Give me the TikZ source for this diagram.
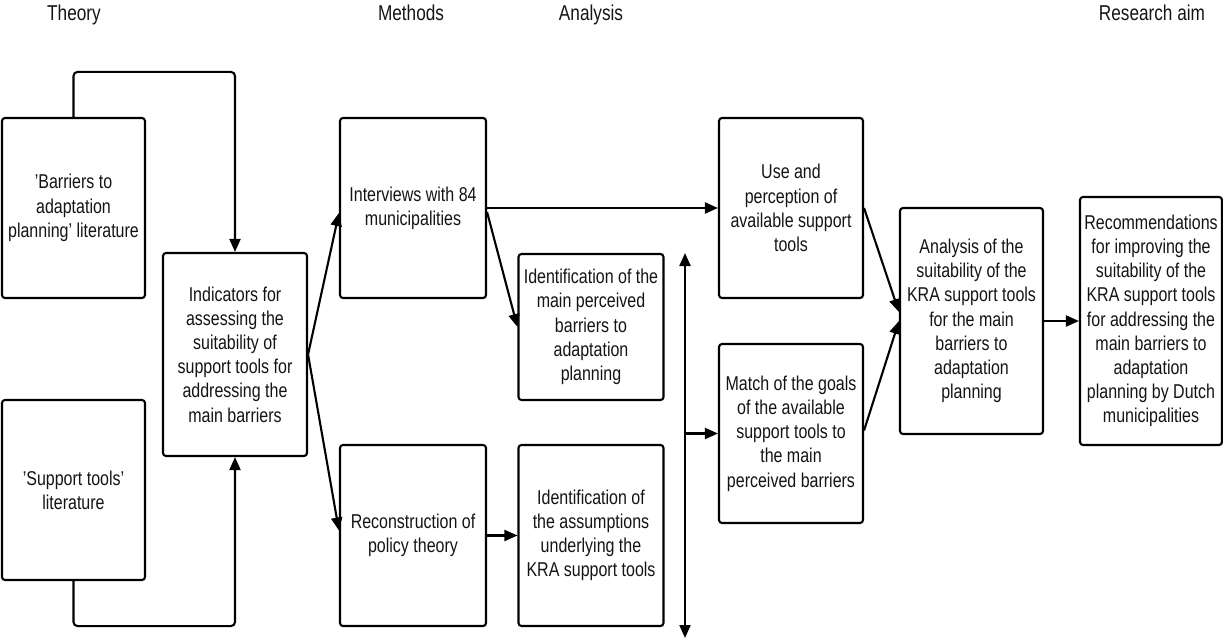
\documentclass[tikz,border=0pt]{standalone}
\usepackage{fontspec}
\setmainfont{Liberation Sans}[FakeStretch=0.8]
\usetikzlibrary{arrows.meta,calc}
\begin{document}
\begin{tikzpicture}[x=1pt,y=-1pt,
  box/.style={draw=black, line width=2.1pt, rounded corners=3pt, align=center, inner sep=0pt, text=black!92, font=\fontsize{20}{24.2}\selectfont},
  conn/.style={line width=2.1pt, draw=black, rounded corners=4pt, -{Triangle[length=13pt,width=11pt]}},
  dconn/.style={line width=2.1pt, draw=black, {Triangle[length=13pt,width=11pt]}-{Triangle[length=13pt,width=11pt]}},
  hdr/.style={font=\fontsize{21.5}{24}\selectfont, text=black!92, inner sep=0pt, anchor=base}]
\useasboundingbox (0,0) rectangle (1223,639);
% headers
\node[hdr] (hT) at (74,21) {Theory};
\node[hdr] (hM) at (411,21) {Methods};
\node[hdr] (hA) at (591,21) {Analysis};
\node[hdr] (hR) at (1152,21) {Research aim};
% boxes
\node[box, minimum width=143pt, minimum height=180pt] (b1) at (73.5,208) {'Barriers to\\adaptation\\planning' literature};
\node[box, minimum width=143pt, minimum height=180pt] (b2) at (73.5,490) {'Support tools'\\literature};
\node[box, minimum width=144pt, minimum height=203pt] (ind) at (235,354.5) {Indicators for\\assessing the\\suitability of\\support tools for\\addressing the\\main barriers};
\node[box, minimum width=146pt, minimum height=180pt] (int) at (413,208) {Interviews with 84\\municipalities};
\node[box, minimum width=146pt, minimum height=181pt] (rec) at (413,535.5) {Reconstruction of\\policy theory};
\node[box, minimum width=145pt, minimum height=146pt] (idb) at (591,327) {Identification of the\\main perceived\\barriers to\\adaptation\\planning};
\node[box, minimum width=145pt, minimum height=181pt] (ida) at (591,535.5) {Identification of\\the assumptions\\underlying the\\KRA support tools};
\node[box, minimum width=144pt, minimum height=180pt] (use) at (791,208) {Use and\\perception of\\available support\\tools};
\node[box, minimum width=144pt, minimum height=179pt] (match) at (791,433.5) {Match of the goals\\of the available\\support tools to\\the main\\perceived barriers};
\node[box, minimum width=143pt, minimum height=226pt] (ana) at (971.5,321) {Analysis of the\\suitability of the\\KRA support tools\\for the main\\barriers to\\adaptation\\planning};
\node[box, minimum width=142pt, minimum height=248pt] (rec2) at (1151,321) {Recommendations\\for improving the\\suitability of the\\KRA support tools\\for addressing the\\main barriers to\\adaptation\\planning by Dutch\\municipalities};
% connectors
\draw[conn] (b1.north) -- ++(0,-45) -| (ind.north);
\draw[conn] (b2.south) -- ++(0,45) -| (ind.south);
\draw[conn] (ind.east) -- ([yshift=-5pt]int.west);
\draw[conn] (ind.east) -- ([yshift=5pt]rec.west);
\draw[conn] (int.east) -- (use.west);
\draw[conn] ([yshift=-4pt]int.east) -- (idb.west);
\draw[conn] (rec.east) -- (ida.west);
\coordinate (vt) at (685,253);
\coordinate (vb) at (685,638);
\coordinate (vm) at (685,433.5);
\draw[dconn] (vt) -- (vb);
\draw[conn] (vm) -- (match.west);
\draw[conn] (use.east) -- ([yshift=9pt]ana.west);
\draw[conn] ([yshift=3pt]match.east) -- (ana.west);
\draw[conn] (ana.east) -- (rec2.west);
\end{tikzpicture}
\end{document}
